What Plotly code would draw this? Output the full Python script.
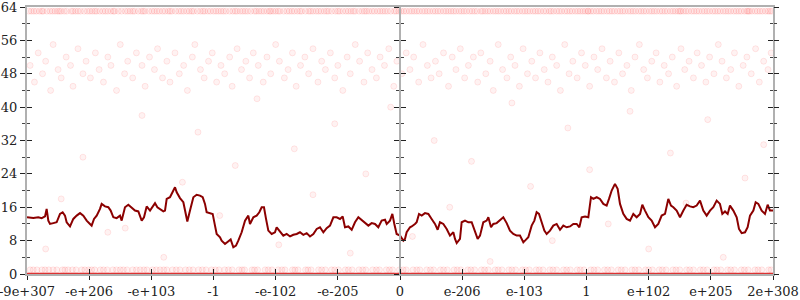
import plotly.graph_objects as go

# ---- data ----
tick_pos = [0, 1, 2, 3, 4, 5, 6, 7, 8, 9, 10, 11, 12]
tick_labels = ["-9e+307", "-e+206", "-e+103", "-1", "-e-102", "-e-205", "0",
               "e-206", "e-103", "1", "e+102", "e+205", "2e+308"]
y_ticks = [0, 8, 16, 24, 32, 40, 48, 56, 64]

line_x = [0.0, 0.102, 0.182, 0.236, 0.290, 0.316, 0.343, 0.370, 0.424, 0.477, 0.531, 0.574, 0.611,
          0.638, 0.692, 0.745, 0.799, 0.853, 0.906, 0.960, 1.013, 1.040, 1.078, 1.121, 1.174, 1.201,
          1.255, 1.308, 1.346, 1.389, 1.442, 1.496, 1.523, 1.576, 1.630, 1.684, 1.737, 1.791, 1.845,
          1.882, 1.925, 1.979, 2.032, 2.059, 2.097, 2.139, 2.193, 2.220, 2.247, 2.300, 2.343, 2.381,
          2.408, 2.461, 2.515, 2.542, 2.579, 2.622, 2.676, 2.729, 2.783, 2.826, 2.863, 2.890, 2.944,
          2.987, 3.024, 3.051, 3.105,
          3.131, 3.185, 3.239, 3.276, 3.319, 3.362, 3.399, 3.453, 3.507, 3.560, 3.587, 3.641, 3.694,
          3.737, 3.775, 3.812, 3.845, 3.882, 3.936, 3.989, 4.016, 4.059, 4.123, 4.177, 4.231, 4.284,
          4.338, 4.391, 4.445, 4.499, 4.552, 4.606, 4.660, 4.713, 4.767, 4.820, 4.874, 4.928, 4.981,
          5.035, 5.078, 5.115, 5.169, 5.223, 5.276, 5.330, 5.383, 5.437, 5.491, 5.544, 5.598, 5.651,
          5.705, 5.759, 5.786, 5.839, 5.877, 5.909, 5.946, 6.0, 6.054, 6.080, 6.107, 6.161,
          6.188, 6.241, 6.268, 6.306, 6.349, 6.402, 6.456, 6.509, 6.563, 6.606, 6.643, 6.697, 6.751,
          6.804, 6.858, 6.885, 6.912, 6.965, 6.992, 7.046, 7.099, 7.153, 7.206, 7.249, 7.287, 7.340,
          7.394, 7.421, 7.464, 7.501, 7.555, 7.609, 7.662, 7.716, 7.769, 7.823, 7.877, 7.930, 7.984,
          8.011, 8.064, 8.118, 8.161, 8.198, 8.236, 8.279, 8.322, 8.359, 8.413, 8.466, 8.520, 8.574,
          8.627, 8.681, 8.735, 8.788, 8.842, 8.885, 8.922, 8.976,
          9.029, 9.072, 9.110, 9.164, 9.217, 9.271, 9.324, 9.362, 9.405, 9.458, 9.501, 9.539, 9.592,
          9.646, 9.700, 9.753, 9.807, 9.861, 9.898, 9.941, 9.995, 10.048, 10.102, 10.155, 10.209,
          10.263, 10.316, 10.359, 10.397, 10.450, 10.504, 10.558, 10.611, 10.665, 10.718, 10.772,
          10.826, 10.879, 10.933, 10.987, 11.040, 11.094, 11.147, 11.185, 11.228, 11.271, 11.308,
          11.362, 11.416, 11.453, 11.496, 11.550, 11.592, 11.630, 11.684, 11.721, 11.764, 11.818,
          11.871, 11.914, 11.952, 12.0]
line_y = [13.6, 13.4, 13.6, 13.4, 13.8, 15.6, 12.8, 12.0, 12.2, 12.4, 14.4, 14.8, 14.0,
          12.4, 11.4, 13.2, 14.0, 14.6, 14.0, 12.8, 12.0, 11.6, 13.2, 14.0, 15.6, 16.8,
          16.2, 16.0, 15.2, 13.6, 13.4, 14.0, 12.8, 16.0, 16.6, 16.0, 15.2, 15.0, 12.8,
          13.6, 16.2, 15.2, 16.4, 17.0, 16.0, 15.6, 15.0, 15.2, 18.0, 18.4, 19.6, 20.8,
          19.6, 18.2, 17.2, 15.2, 12.6, 15.2, 18.4, 19.0, 18.8, 18.4, 16.8, 14.8, 14.6,
          14.4, 11.6, 9.6, 8.8,
          8.0, 7.2, 8.0, 8.3, 6.4, 6.8, 8.0, 10.0, 12.8, 14.0, 12.0, 13.6, 14.0,
          14.8, 16.0, 16.0, 13.2, 10.4, 9.6, 10.0, 11.2, 10.4, 9.2, 9.6, 9.0, 9.4,
          9.6, 10.0, 9.4, 9.8, 9.0, 9.6, 10.8, 11.2, 10.0, 11.0, 11.6, 13.6, 13.6,
          13.2, 13.8, 11.2, 11.4, 10.6, 12.4, 13.6, 13.0, 12.2, 11.6, 12.2, 12.0, 11.2,
          12.8, 13.0, 12.0, 12.8, 14.4, 12.0, 9.6, 9.2, 8.0, 8.4, 10.0, 11.2,
          11.4, 12.0, 12.4, 14.4, 14.0, 14.6, 14.4, 13.2, 12.0, 10.6, 12.4, 12.0, 10.8,
          9.2, 10.0, 8.4, 7.4, 8.4, 12.4, 12.8, 12.4, 12.4, 10.0, 8.4, 9.2, 12.4,
          12.8, 13.6, 11.2, 12.0, 12.2, 12.8, 13.6, 12.2, 10.4, 9.6, 9.2, 9.2, 7.6,
          8.0, 8.8, 11.6, 12.8, 14.8, 14.4, 12.4, 10.4, 9.6, 10.4, 11.6, 12.0, 10.6,
          11.6, 11.2, 11.4, 12.0, 12.0, 11.2, 13.6, 13.8,
          13.6, 18.4, 18.0, 18.4, 18.0, 16.8, 16.4, 18.0, 20.0, 21.6, 20.4, 16.8, 14.4,
          13.2, 12.8, 14.4, 13.6, 14.4, 16.6, 15.2, 13.6, 12.8, 11.2, 12.0, 14.0,
          14.4, 18.0, 16.4, 16.0, 15.2, 13.6, 15.2, 16.6, 16.2, 16.0, 16.4,
          17.6, 15.2, 14.0, 15.2, 16.0, 17.6, 16.8, 14.4, 15.0, 14.4, 16.4,
          15.2, 13.6, 10.8, 9.8, 10.0, 11.2, 14.0, 15.2, 17.2, 16.8, 15.2,
          14.4, 16.6, 15.2, 15.2]

zero_x = [0.0, 12.0]
zero_y = [0.0, 0.0]

top_level = 63
top_x = [0.03, 0.11, 0.2, 0.26, 0.37, 0.45, 0.52, 0.6, 0.71, 0.78, 0.86, 0.97, 1.05, 1.12, 1.22, 1.3,
         1.41, 1.47, 1.58, 1.66, 1.73, 1.84, 1.9, 2.01, 2.09, 2.18, 2.27, 2.33, 2.44, 2.52, 2.61, 2.68,
         2.79, 2.86, 2.95, 3.04, 3.12, 3.2, 3.31, 3.38, 3.47, 3.55, 3.66, 3.73, 3.81, 3.92, 4.0, 4.07,
         4.18, 4.26, 4.35, 4.42, 4.53, 4.6, 4.69, 4.78, 4.85, 4.96, 5.03, 5.13, 5.21, 5.28, 5.39, 5.46,
         5.55, 5.64, 5.72, 5.8, 5.91, 5.98, 6.06, 6.15, 6.23, 6.31, 6.4, 6.48, 6.57, 6.65, 6.74, 6.82,
         6.9, 6.99, 7.07, 7.16, 7.24, 7.33, 7.41, 7.5, 7.58, 7.67, 7.75, 7.84, 7.92, 8.01, 8.09, 8.18,
         8.26, 8.35, 8.43, 8.52, 8.6, 8.69, 8.77, 8.86, 8.94, 9.03, 9.11, 9.2, 9.28, 9.37, 9.45, 9.54,
         9.62, 9.71, 9.79, 9.88, 9.96, 10.05, 10.13, 10.22, 10.3, 10.39, 10.47, 10.56, 10.64, 10.73,
         10.81, 10.9, 10.98, 11.07, 11.15, 11.24, 11.32, 11.41, 11.49, 11.58, 11.66, 11.75, 11.83,
         11.92, 11.98, 0.55, 1.35, 2.05, 3.9, 5.5, 6.95, 7.3, 8.4, 9.02, 10.5, 11.6,
         0.07, 0.15, 0.24, 0.32, 0.41, 0.49, 0.64, 0.74, 0.82, 0.92, 1.01, 1.09, 1.17, 1.26, 1.39,
         1.52, 1.62, 1.7, 1.79, 1.87, 1.96, 2.13, 2.22, 2.3, 2.39, 2.48, 2.57, 2.65, 2.74, 2.83,
         2.91, 3.0, 3.08, 3.16, 3.26, 3.35, 3.43, 3.51, 3.6, 3.69, 3.77, 3.86, 3.96, 4.04, 4.13,
         4.22, 4.3, 4.39, 4.48, 4.56, 4.65, 4.73, 4.82, 4.9, 5.0, 5.08, 5.17, 5.25, 5.34, 5.43,
         5.59, 5.68, 5.76, 5.85, 5.94, 6.02, 6.1, 6.19, 6.27, 6.36, 6.44, 6.53, 6.61, 6.7, 6.78,
         6.86, 7.03, 7.12, 7.2, 7.37, 7.45, 7.54, 7.62, 7.71, 7.79, 7.88, 7.97, 8.05, 8.14, 8.22,
         8.31, 8.47, 8.56, 8.65, 8.73, 8.82, 8.9, 8.98, 9.07, 9.16, 9.24, 9.33, 9.41, 9.5, 9.58,
         9.67, 9.75, 9.84, 9.92, 10.01, 10.09, 10.18, 10.26, 10.35, 10.43, 10.52, 10.6, 10.69,
         10.77, 10.86, 10.94, 11.03, 11.11, 11.2, 11.28, 11.37, 11.45, 11.54, 11.62, 11.71, 11.79,
         11.88, 11.95]

low_level = 1
low_x = [0.05, 0.16, 0.24, 0.35, 0.48, 0.57, 0.66, 0.79, 0.88, 0.99, 1.09, 1.18, 1.29, 1.38, 1.5,
         1.61, 1.7, 1.82, 1.93, 2.02, 2.14, 2.25, 2.34, 2.46, 2.55, 2.67, 2.76, 2.88, 2.97, 3.09,
         3.18, 3.3, 3.41, 3.5, 3.62, 3.71, 3.83, 3.94, 4.04, 4.15, 4.27, 4.36, 4.48, 4.57, 4.69,
         4.8, 4.9, 5.01, 5.12, 5.23, 5.34, 5.45, 5.56, 5.67, 5.78, 5.88, 5.99, 6.1, 6.21, 6.32,
         6.43, 6.54, 6.65, 6.76, 6.87, 6.98, 7.09, 7.2, 7.31, 7.42, 7.53, 7.64, 7.75, 7.86, 7.97,
         8.08, 8.19, 8.3, 8.41, 8.52, 8.63, 8.74, 8.85, 8.96, 9.07, 9.18, 9.29, 9.4, 9.51, 9.62,
         9.73, 9.84, 9.95, 10.06, 10.17, 10.28, 10.39, 10.5, 10.61, 10.72, 10.83, 10.94, 11.05,
         11.16, 11.27, 11.38, 11.49, 11.6, 11.71, 11.82, 11.93,
         0.1, 0.29, 0.42, 0.61, 0.73, 0.93, 1.04, 1.23, 1.44, 1.55, 1.76, 1.88, 2.08, 2.2, 2.4,
         2.61, 2.82, 3.03, 3.24, 3.46, 3.66, 3.88, 4.1, 4.31, 4.52, 4.74, 4.95, 5.17, 5.4, 5.62,
         5.83, 6.05, 6.27, 6.49, 6.7, 6.92, 7.14, 7.36, 7.58, 7.8, 8.02, 8.24, 8.46, 8.68, 8.9,
         9.12, 9.34, 9.56, 9.78, 10.0, 10.22, 10.44, 10.66, 10.88, 11.1, 11.32, 11.54, 11.76, 11.97]

cloud_x = [0.05, 0.12, 0.18, 0.25, 0.3, 0.38, 0.42, 0.5, 0.55, 0.63, 0.7, 0.74, 0.82, 0.9, 0.95,
           1.02, 1.1, 1.16, 1.23, 1.3, 1.35, 1.44, 1.5, 1.57, 1.62, 1.7, 1.76, 1.85, 1.9, 1.97,
           2.05, 2.1, 2.18, 2.25, 2.3, 2.38, 2.45, 2.52, 2.58, 2.66, 2.7, 2.79, 2.85, 2.92, 2.98,
           3.05, 3.12, 3.18, 3.26, 3.3, 3.38, 3.45, 3.52, 3.58, 3.64, 3.72, 3.8, 3.86, 3.92, 4.0,
           4.06, 4.14, 4.2, 4.27, 4.33, 4.4, 4.47, 4.53, 4.6, 4.68, 4.74, 4.8, 4.88, 4.95, 5.0,
           5.08, 5.15, 5.2, 5.28, 5.35, 5.42, 5.48, 5.55, 5.62, 5.68, 5.75, 5.82, 5.9, 5.95, 6.03,
           6.1, 6.16, 6.22, 6.3, 6.37, 6.44, 6.5, 6.57, 6.63, 6.7, 6.78, 6.84, 6.9, 6.97, 7.04,
           7.1, 7.18, 7.25, 7.3, 7.38, 7.45, 7.5, 7.58, 7.65, 7.72, 7.78, 7.85, 7.92, 7.98, 8.05,
           8.12, 8.18, 8.25, 8.32, 8.38, 8.45, 8.52, 8.58, 8.65, 8.72, 8.78, 8.85, 8.92, 8.98, 9.05,
           9.12, 9.18, 9.25, 9.32, 9.38, 9.45, 9.52, 9.58, 9.65, 9.72, 9.78, 9.85, 9.92, 9.98, 10.05,
           10.12, 10.18, 10.25, 10.32, 10.38, 10.45, 10.52, 10.58, 10.65, 10.72, 10.78, 10.85, 10.92,
           10.98, 11.05, 11.12, 11.18, 11.25, 11.32, 11.38, 11.45, 11.52, 11.58, 11.65, 11.72, 11.78,
           11.85, 11.92, 11.97]
cloud_y = [50, 46, 53, 48, 51, 44, 55, 49, 47, 52, 50, 45, 54, 48, 51,
           47, 53, 49, 46, 52, 50, 44, 55, 48, 51, 47, 53, 50, 45, 52,
           49, 54, 47, 51, 46, 53, 48, 50, 44, 52, 55, 49, 47, 51, 53,
           46, 50, 48, 52, 45, 54, 49, 51, 47, 53, 50, 46, 52, 48, 55,
           51, 47, 49, 53, 45, 50, 52, 48, 54, 46, 51, 49, 53, 47, 50,
           44, 52, 48, 55, 51, 46, 53, 49, 47, 52, 50, 54, 45, 51, 48,
           53, 49, 52, 46, 55, 50, 47, 51, 48, 53, 45, 52, 49, 54, 47,
           50, 52, 46, 53, 48, 51, 44, 55, 49, 47, 52, 50, 45, 54, 48,
           51, 47, 53, 49, 46, 52, 50, 44, 55, 48, 51, 47, 53, 50, 45,
           52, 49, 54, 47, 51, 46, 53, 48, 50, 44, 52, 55, 49, 47, 51,
           53, 46, 50, 48, 52, 45, 54, 49, 51, 47, 53, 50, 46, 52,
           48, 55, 51, 47, 49, 53, 45, 50, 52, 48, 54, 46, 51, 49, 53]

sparse_x = [0.3, 0.55, 0.9, 1.3, 1.58, 1.85, 2.2, 2.5, 2.75, 3.1, 3.35, 3.7, 4.05, 4.3, 4.6, 4.95,
            5.2, 5.45, 5.85, 6.2, 6.55, 6.8, 7.15, 7.45, 7.8, 8.1, 8.45, 8.7, 9.05, 9.35, 9.7, 10.0,
            10.35, 10.6, 10.95, 11.2, 11.55, 11.85]
sparse_y = [6, 18, 28, 10, 11, 38, 4, 22, 34, 14, 26, 42, 7, 30, 19, 36, 5, 24, 40, 9, 32, 16,
            27, 3, 41, 21, 8, 35, 25, 12, 39, 6, 29, 17, 37, 4, 23, 31]

# ---- figure ----
pt_marker = dict(size=6, color="rgba(255,0,0,0.05)",
                 line=dict(color="rgba(255,0,0,0.09)", width=1))

fig = go.Figure()
fig.add_trace(go.Scatter(x=top_x, y=[top_level] * len(top_x), mode="markers", marker=pt_marker,
                         hoverinfo="skip"))
n = min(len(cloud_x), len(cloud_y))
fig.add_trace(go.Scatter(x=cloud_x[:n], y=cloud_y[:n], mode="markers", marker=pt_marker,
                         hoverinfo="skip"))
fig.add_trace(go.Scatter(x=sparse_x, y=sparse_y, mode="markers", marker=pt_marker,
                         hoverinfo="skip"))
fig.add_trace(go.Scatter(x=low_x, y=[low_level] * len(low_x), mode="markers", marker=pt_marker,
                         hoverinfo="skip"))
fig.add_trace(go.Scatter(x=zero_x, y=zero_y, mode="lines",
                         line=dict(color="rgb(220,50,50)", width=2.5), hoverinfo="skip"))
fig.add_trace(go.Scatter(x=line_x, y=line_y, mode="lines",
                         line=dict(color="#8b0000", width=2), hoverinfo="skip"))
# empty traces so the extra tick axes are drawn
for ax in ["y2", "y3", "y4", "y5", "y6"]:
    fig.add_trace(go.Scatter(x=[None], y=[None], yaxis=ax, mode="markers", hoverinfo="skip"))
fig.add_trace(go.Scatter(x=[None], y=[None], xaxis="x2", mode="markers", hoverinfo="skip"))

font = dict(family="DejaVu Serif", size=13, color="#222")
gray = "#b0b0b0"
xr = [0, 12]
yr = [0, 64]

common_y = dict(range=yr, tickvals=y_ticks, ticklen=5, tickcolor="#222", tickwidth=1,
                showgrid=False, zeroline=False, automargin=False,
                minor=dict(dtick=4, tick0=0, ticklen=3, tickcolor="#444", tickwidth=1))

fig.update_layout(
    width=800, height=300,
    margin=dict(l=27, r=27, t=7, b=26, autoexpand=False),
    plot_bgcolor="white", paper_bgcolor="white",
    showlegend=False,
    font=font,
    xaxis=dict(range=xr, tickvals=tick_pos, ticktext=tick_labels, ticks="outside", ticklen=4,
               tickcolor="#222", showline=True, linecolor=gray, linewidth=2, mirror=True,
               showgrid=False, zeroline=False, tickfont=font, automargin=False,
               ticklabeloverflow="allow"),
    xaxis2=dict(range=xr, tickvals=tick_pos, ticks="inside", ticklen=5, tickcolor="#222",
                overlaying="x", anchor="y", side="bottom", showticklabels=False,
                showline=False, showgrid=False, zeroline=False, automargin=False),
    yaxis=dict(**common_y, ticks="outside", showline=True, linecolor=gray, linewidth=2,
               mirror=True, tickfont=font, ticklabeloverflow="allow"),
    yaxis2=dict(**common_y, ticks="inside", overlaying="y", anchor="x", showticklabels=False,
                showline=False),
    yaxis3=dict(**common_y, ticks="outside", overlaying="y", anchor="x", side="right",
                showticklabels=False, showline=False),
    yaxis4=dict(**common_y, ticks="inside", overlaying="y", anchor="x", side="right",
                showticklabels=False, showline=False),
    yaxis5=dict(**common_y, ticks="outside", overlaying="y", anchor="free", position=0.5,
                showticklabels=False, showline=True, linecolor=gray, linewidth=2),
    yaxis6=dict(**common_y, ticks="inside", overlaying="y", anchor="free", position=0.5,
                showticklabels=False, showline=False),
)
fig.update_yaxes(minor_ticks="outside", selector=dict(ticks="outside"))
fig.update_yaxes(minor_ticks="inside", selector=dict(ticks="inside"))

fig.write_html("out.html")
